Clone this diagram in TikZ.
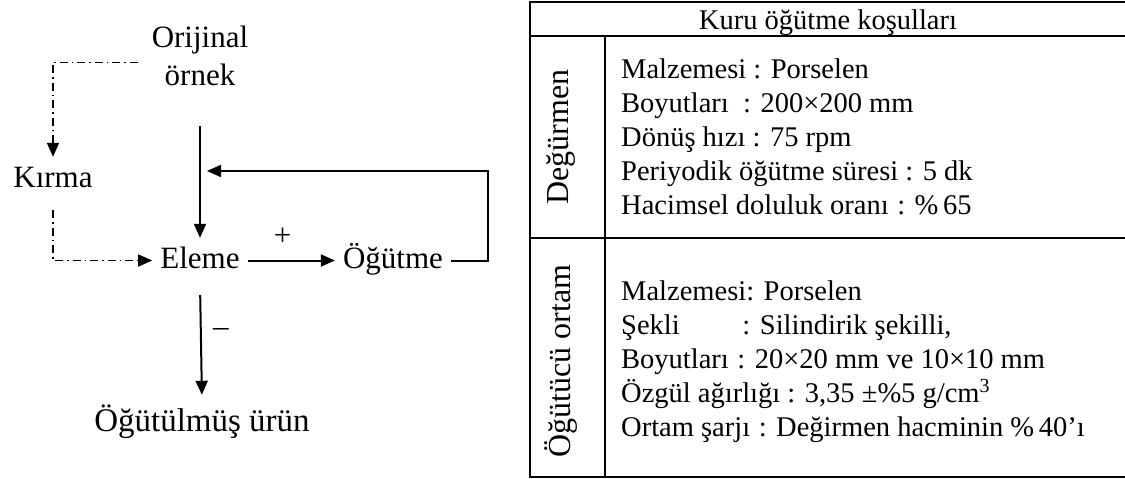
\documentclass[tikz,border=0pt]{standalone}
\usepackage{fontspec}
\setmainfont{Liberation Serif}
\usetikzlibrary{arrows.meta,positioning}

\begin{document}
\begin{tikzpicture}[x=1pt, y=-1pt,
        lbl/.style={font=\fontsize{31}{38}\selectfont, inner sep=8pt},
        flow/.style={lbl, text height=22pt, text depth=7pt},
        arr/.style={line width=2pt, -{Triangle[length=14pt,width=12pt]}},
        dashline/.style={line width=1.5pt, dash pattern=on 8pt off 4pt on 1.5pt off 4pt, -{Triangle[length=14pt,width=12pt]}},
        tbl/.style={line width=2pt},
        cell/.style={font=\fontsize{28.5}{34}\selectfont, inner sep=0pt, anchor=base west},
        side/.style={font=\fontsize{32}{38}\selectfont, rotate=90, inner sep=0pt}]
        \useasboundingbox (0,0) rectangle (1125,479);
        \node[lbl, align=center] (orig) at (200,56) {Orijinal\\örnek};
        \node[flow] (kirma) at (53,179.5) {Kırma};
        \node[flow] (eleme) at (200,260.5) {Eleme};
        \node[flow] (ogutme) at (393,260.5) {Öğütme};
        \node[flow, font=\fontsize{33}{38}\selectfont] (urun) at (202,423.5) {Öğütülmüş ürün};
        \coordinate (merge) at (207,171);
        \draw[dashline] ([xshift=-6pt,yshift=-6.5pt]orig.west) -| (kirma.north);
        \draw[dashline, shorten <=8pt] (kirma.south) |- (eleme.west);
        \draw[arr, shorten <=32pt] (orig.south) -- (eleme.north);
        \draw[arr] (eleme.east) -- node[pos=.4, yshift=24pt, lbl, inner sep=0pt] (plus) {+} (ogutme.west);
        \draw[arr] (ogutme.east) -- ++(37,0) |- (merge);
        \draw[arr, shorten <=12pt, shorten >=6pt] (eleme.south) -- node[pos=.42, xshift=20pt, lbl, inner sep=0pt] (minus) {–} (urun.north);
        \draw[tbl] (1125,2) -- (530,2) -- (530,477) -- (1125,477);
        \draw[tbl] (530,36) -- (1125,36) (530,238) -- (1125,238) (605,36) -- (605,477);
        \node[cell, anchor=base] (hdr) at (828,29) {Kuru öğütme koşulları};
        \node[side] (dgm) at (561,137) {Değürmen};
        \node[side] (ort) at (561,361) {Öğütücü ortam};
        \foreach \txt [count=\i] in {Malzemesi : Porselen, Boyutları\hspace{0.5em}: 200×200 mm, Dönüş hızı : 75 rpm, Periyodik öğütme süresi : 5 dk, Hacimsel doluluk oranı\hspace{0.3em}: \%\,65}
            \node[cell] (dgm\i) at (621,{78+34*(\i-1)}) {\txt};
        \foreach \txt [count=\i] in {Malzemesi: Porselen, {Şekli\hspace{2.2em}: Silindirik şekilli,}, Boyutları\hspace{0.3em}: 20×20 mm ve 10×10 mm, {Özgül ağırlığı : 3,35 ±\%5 g/cm\textsuperscript{3}}, Ortam şarjı\hspace{0.3em}: Değirmen hacminin \%\,40’ı}
            \node[cell] (ort\i) at (621,{300+34*(\i-1)}) {\txt};
\end{tikzpicture}
\end{document}
